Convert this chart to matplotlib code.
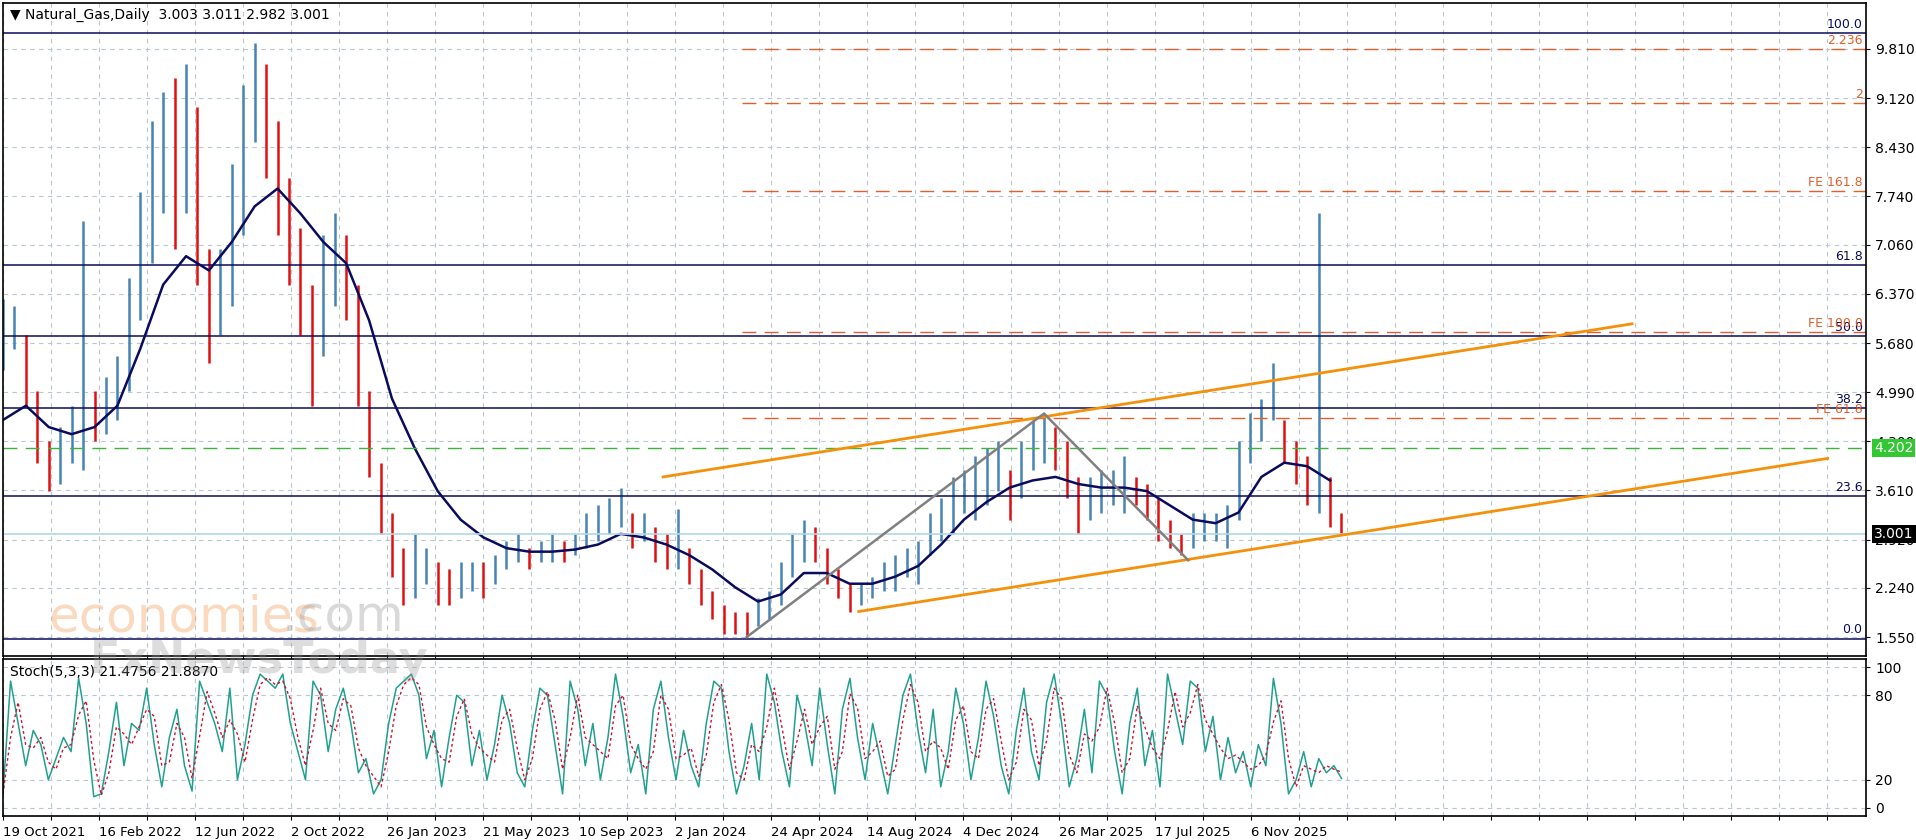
import numpy as np
import matplotlib.pyplot as plt

# price data, one entry per 10 trading days (high / low of the period)
highs = [6.3, 6.2, 5.8, 5.0, 4.3, 4.5, 4.8, 7.4, 5.0, 5.2, 5.5, 6.6, 7.8, 8.8, 9.2, 9.4, 9.6, 9.0, 7.0, 7.0,
         8.2, 9.3, 9.9, 9.6, 8.8, 8.0, 7.3, 6.5, 7.2, 7.5, 7.2, 6.5, 5.0, 4.0, 3.3, 2.8, 3.0, 2.8, 2.6, 2.5,
         2.6, 2.6, 2.6, 2.7, 2.9, 3.0, 2.8, 2.9, 3.0, 2.9, 3.0, 3.3, 3.4, 3.5, 3.65, 3.3, 3.3, 3.1, 3.0, 3.35,
         2.8, 2.5, 2.2, 2.0, 1.9, 1.9, 2.1, 2.2, 2.6, 3.0, 3.2, 3.1, 2.8, 2.5, 2.3, 2.3, 2.4, 2.6, 2.7, 2.8,
         2.9, 3.3, 3.5, 3.8, 3.9, 4.1, 4.2, 4.3, 3.9, 4.3, 4.6, 4.7, 4.5, 4.3, 3.8, 3.8, 3.9, 3.9, 4.1, 3.8,
         3.7, 3.5, 3.2, 3.0, 3.3, 3.3, 3.3, 3.4, 4.3, 4.7, 4.9, 5.4, 4.6, 4.3, 4.1, 7.5, 3.8, 3.3]
lows = [5.3, 5.6, 4.8, 4.0, 3.6, 3.7, 4.0, 3.9, 4.3, 4.4, 4.6, 5.0, 6.0, 6.8, 7.5, 7.0, 7.5, 6.5, 5.4, 5.8,
        6.2, 7.2, 8.5, 8.0, 7.2, 6.5, 5.8, 4.8, 5.5, 6.2, 6.0, 4.8, 3.8, 3.0, 2.4, 2.0, 2.1, 2.3, 2.0, 2.0,
        2.1, 2.2, 2.1, 2.3, 2.5, 2.6, 2.5, 2.6, 2.6, 2.6, 2.7, 2.8, 2.9, 3.0, 3.1, 2.8, 2.9, 2.6, 2.5, 2.5,
        2.3, 2.0, 1.8, 1.6, 1.6, 1.55, 1.7, 1.8, 2.0, 2.4, 2.6, 2.6, 2.3, 2.1, 1.9, 2.0, 2.1, 2.2, 2.2, 2.4,
        2.3, 2.7, 2.9, 3.0, 3.3, 3.2, 3.4, 3.6, 3.2, 3.5, 3.9, 4.0, 3.9, 3.5, 3.0, 3.2, 3.3, 3.4, 3.3, 3.4,
        3.2, 2.9, 2.8, 2.7, 2.8, 2.9, 2.9, 2.8, 3.2, 4.0, 4.3, 4.6, 4.0, 3.7, 3.4, 3.3, 3.1, 2.98]
# moving average, every second entry
ma = [4.6, 4.8, 4.5, 4.4, 4.5, 4.8, 5.6, 6.5, 6.9, 6.7, 7.1, 7.6, 7.85, 7.5, 7.1, 6.8, 6.0, 4.9, 4.2, 3.6,
      3.2, 2.95, 2.8, 2.75, 2.75, 2.78, 2.85, 3.0, 2.95, 2.85, 2.7, 2.5, 2.25, 2.05, 2.15, 2.45, 2.45, 2.3,
      2.3, 2.4, 2.55, 2.85, 3.2, 3.45, 3.65, 3.75, 3.8, 3.7, 3.65, 3.65, 3.6, 3.4, 3.2, 3.15, 3.3, 3.8,
      4.0, 3.95, 3.75]
# stochastic %K
stoch_k = [10, 90, 60, 30, 55, 45, 20, 35, 50, 40, 92, 60, 8, 10, 40, 75, 30, 60, 55, 85, 45, 15, 50, 70, 30, 12,
           90, 75, 60, 40, 85, 20, 45, 80, 95, 90, 85, 95, 60, 40, 20, 90, 80, 40, 70, 85, 60, 25, 35, 10, 20, 60,
           85, 90, 95, 80, 35, 55, 15, 50, 80, 75, 30, 55, 20, 45, 80, 60, 25, 15, 55, 85, 80, 45, 10, 90, 70, 30,
           60, 20, 50, 95, 65, 25, 45, 10, 70, 90, 50, 20, 55, 30, 15, 60, 90, 85, 40, 10, 30, 60, 20, 95, 75, 40,
           15, 80, 60, 30, 85, 45, 10, 70, 92, 50, 20, 60, 35, 10, 45, 80, 95, 55, 25, 70, 15, 40, 85, 60, 20, 50,
           90, 65, 30, 10, 55, 85, 40, 20, 75, 95, 60, 15, 35, 70, 25, 90, 80, 40, 10, 60, 85, 30, 55, 15, 95, 70,
           45, 90, 85, 40, 65, 20, 50, 25, 40, 15, 45, 30, 92, 60, 10, 20, 40, 15, 35, 25, 30, 21]
x_labels = ['19 Oct 2021', '16 Feb 2022', '12 Jun 2022', '2 Oct 2022', '26 Jan 2023', '21 May 2023',
            '10 Sep 2023', '2 Jan 2024', '24 Apr 2024', '14 Aug 2024', '4 Dec 2024', '26 Mar 2025',
            '17 Jul 2025', '6 Nov 2025']
price_ticks = [9.810, 9.120, 8.430, 7.740, 7.060, 6.370, 5.680, 4.990, 4.300, 3.610, 2.920, 2.240, 1.550]
fib_levels = [(100.0, 10.03), (61.8, 6.78), (50.0, 5.78), (38.2, 4.77), (23.6, 3.53), (0.0, 1.53)]
fe_levels = [('2.236', 9.81), ('2', 9.05), ('FE 161.8', 7.82), ('FE 100.0', 5.84), ('FE 61.8', 4.63)]
last_price = 3.001
green_level = 4.202

NAVY = '#0b0b5e'
FE_COL = '#e0602b'
ORANGE = '#f5900a'
GRID = '#b8c8d0'

fig = plt.figure(figsize=(19.16, 8.4), dpi=100)
ax = fig.add_axes([3/1916, 1 - 656/840, 1863/1916, 653/840])
ax2 = fig.add_axes([3/1916, 1 - 816/840, 1863/1916, 157/840])

px = 11.44  # pixels per sample
xmax = 1863 / px
ylo = 9.81 - (656 - 49) / 71.2
yhi = 9.81 - (3 - 49) / 71.2

for a in (ax, ax2):
    a.set_xlim(0, xmax)
    a.set_xticks(np.arange(0, xmax, 48 / px))
    a.grid(True, color=GRID, ls=(0, (4, 4)), lw=0.8)
    a.set_axisbelow(True)
    a.yaxis.tick_right()
    a.tick_params(axis='both', length=3, labelsize=10, colors='black')
    for s in a.spines.values():
        s.set_linewidth(1.2)

ax.set_ylim(ylo, yhi)
ax.set_yticks(price_ticks)
ax.set_yticklabels(['%.3f' % v for v in price_ticks])
ax.set_xticklabels([])

# bars
x = np.arange(len(highs))
mid = (np.array(highs) + np.array(lows)) / 2
for i in x:
    up = i == 0 or mid[i] >= mid[i - 1]
    ax.vlines(i, lows[i], highs[i], color='#4682b4' if up else '#e01010', lw=1.8)
ax.plot(np.arange(len(ma)) * 2, ma, color=NAVY, lw=1.8)

# fib retracement
for lab, v in fib_levels:
    ax.axhline(v, color=NAVY, lw=1.1)
    ax.text(xmax - 0.3, v + 0.03, '%.1f' % lab, ha='right', va='bottom', color=NAVY, fontsize=9)
# fib expansion
fe_start = 64.6
for lab, v in fe_levels:
    ax.hlines(v, fe_start, xmax, color=FE_COL, lw=1.0, ls=(0, (10, 6)))
    ax.text(xmax - 0.3, v + 0.03, lab, ha='right', va='bottom', color=FE_COL, fontsize=9)
ax.axhline(green_level, color='#3cb43c', lw=1.0, ls=(0, (10, 6)))
ax.axhline(last_price, color='#b0d8e8', lw=1.2)

# channel and zigzag
ax.plot([57.7, 142.4], [3.80, 5.95], color=ORANGE, lw=2)
ax.plot([74.8, 159.5], [1.91, 4.06], color=ORANGE, lw=2)
ax.plot([65, 91, 103.6], [1.55, 4.69, 2.63], color='#808080', lw=1.8)

# price boxes
ax.text(xmax + 0.7, green_level, '%.3f' % green_level, color='white', fontsize=10, va='center', ha='left',
        bbox=dict(boxstyle='square,pad=0.15', fc='#32c832', ec='none'), clip_on=False)
ax.text(xmax + 0.7, last_price, '%.3f' % last_price, color='white', fontsize=10, va='center', ha='left',
        bbox=dict(boxstyle='square,pad=0.15', fc='black', ec='none'), clip_on=False)

ax.text(0.004, 0.992, '\u25bc Natural_Gas,Daily  3.003 3.011 2.982 3.001', transform=ax.transAxes,
        fontsize=10, va='top', ha='left')

# watermark
fig.text(48/1916, 1 - 618/840, 'economies', fontsize=36, color='#f5a060', alpha=0.4, va='center')
fig.text(282/1916, 1 - 618/840, '.com', fontsize=36, color='#a0a0a0', alpha=0.4, va='center')
fig.text(90/1916, 1 - 660/840, 'FxNewsToday', fontsize=32, color='#909090', alpha=0.3, va='center',
         fontweight='bold')

# stochastic
k = np.array(stoch_k, dtype=float)
d = np.concatenate([[k[0]], (k[1:] + k[:-1]) / 2])
xs = np.linspace(0, len(highs) - 1, len(k))
ax2.plot(xs, k, color='#20a090', lw=1.1)
ax2.plot(xs, d, color='#d01030', lw=1.0, ls=(0, (2, 2)))
ax2.set_ylim(-5.7, 105.7)
ax2.set_yticks([0, 20, 80, 100])
ticks = ax2.get_xticks()
ax2.set_xticklabels([x_labels[i // 2] if i % 2 == 0 and i // 2 < len(x_labels) else ''
                     for i in range(len(ticks))])
for t in ax2.get_xticklabels():
    t.set_ha('left')
ax2.tick_params(axis='x', labelsize=9.5, pad=4)
ax2.text(0.004, 0.96, 'Stoch(5,3,3) 21.4756 21.8870', transform=ax2.transAxes, fontsize=10, va='top')

fig.savefig('out.png', dpi=100)
